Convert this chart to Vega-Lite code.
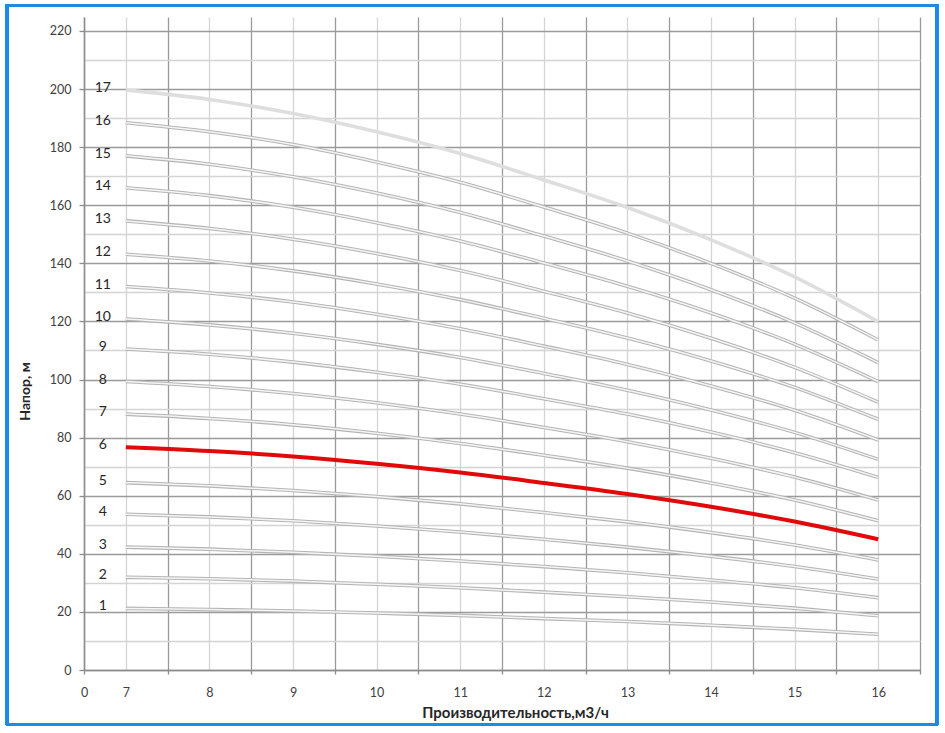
{
  "$schema": "https://vega.github.io/schema/vega-lite/v6.json",
  "autosize": "none",
  "width": 836,
  "height": 653,
  "padding": {"left": 84, "top": 17, "right": 25, "bottom": 63},
  "background": "white",
  "config": {
    "view": {"stroke": null},
    "font": "Lato",
    "axis": {"labelFont": "Lato", "titleFont": "Lato"}
  },
  "datasets": {
    "curves": [
      {"n":1,"q":7,"h":21.2},{"n":1,"q":8,"h":20.8},{"n":1,"q":9,"h":20.3},{"n":1,"q":10,"h":19.6},{"n":1,"q":11,"h":18.8},{"n":1,"q":12,"h":17.7},{"n":1,"q":13,"h":16.7},{"n":1,"q":14,"h":15.4},{"n":1,"q":15,"h":14.0},{"n":1,"q":16,"h":12.3},
      {"n":2,"q":7,"h":31.9},{"n":2,"q":8,"h":31.4},{"n":2,"q":9,"h":30.6},{"n":2,"q":10,"h":29.5},{"n":2,"q":11,"h":28.3},{"n":2,"q":12,"h":26.8},{"n":2,"q":13,"h":25.2},{"n":2,"q":14,"h":23.4},{"n":2,"q":15,"h":21.3},{"n":2,"q":16,"h":18.7},
      {"n":3,"q":7,"h":42.3},{"n":3,"q":8,"h":41.6},{"n":3,"q":9,"h":40.5},{"n":3,"q":10,"h":39.2},{"n":3,"q":11,"h":37.5},{"n":3,"q":12,"h":35.6},{"n":3,"q":13,"h":33.5},{"n":3,"q":14,"h":31.0},{"n":3,"q":15,"h":28.3},{"n":3,"q":16,"h":24.9},
      {"n":4,"q":7,"h":53.6},{"n":4,"q":8,"h":52.7},{"n":4,"q":9,"h":51.4},{"n":4,"q":10,"h":49.6},{"n":4,"q":11,"h":47.5},{"n":4,"q":12,"h":45.0},{"n":4,"q":13,"h":42.3},{"n":4,"q":14,"h":39.2},{"n":4,"q":15,"h":35.6},{"n":4,"q":16,"h":31.3},
      {"n":5,"q":7,"h":64.5},{"n":5,"q":8,"h":63.4},{"n":5,"q":9,"h":61.8},{"n":5,"q":10,"h":59.7},{"n":5,"q":11,"h":57.2},{"n":5,"q":12,"h":54.2},{"n":5,"q":13,"h":51.0},{"n":5,"q":14,"h":47.3},{"n":5,"q":15,"h":43.0},{"n":5,"q":16,"h":37.9},
      {"n":6,"q":7,"h":76.7},{"n":6,"q":8,"h":75.4},{"n":6,"q":9,"h":73.5},{"n":6,"q":10,"h":71.0},{"n":6,"q":11,"h":68.0},{"n":6,"q":12,"h":64.4},{"n":6,"q":13,"h":60.6},{"n":6,"q":14,"h":56.2},{"n":6,"q":15,"h":51.1},{"n":6,"q":16,"h":45.0},
      {"n":7,"q":7,"h":88.1},{"n":7,"q":8,"h":86.6},{"n":7,"q":9,"h":84.4},{"n":7,"q":10,"h":81.5},{"n":7,"q":11,"h":78.0},{"n":7,"q":12,"h":73.9},{"n":7,"q":13,"h":69.5},{"n":7,"q":14,"h":64.4},{"n":7,"q":15,"h":58.5},{"n":7,"q":16,"h":51.4},
      {"n":8,"q":7,"h":99.3},{"n":8,"q":8,"h":97.6},{"n":8,"q":9,"h":95.2},{"n":8,"q":10,"h":92.0},{"n":8,"q":11,"h":88.1},{"n":8,"q":12,"h":83.5},{"n":8,"q":13,"h":78.6},{"n":8,"q":14,"h":72.9},{"n":8,"q":15,"h":66.4},{"n":8,"q":16,"h":58.5},
      {"n":9,"q":7,"h":110.5},{"n":9,"q":8,"h":108.7},{"n":9,"q":9,"h":106.0},{"n":9,"q":10,"h":102.5},{"n":9,"q":11,"h":98.4},{"n":9,"q":12,"h":93.4},{"n":9,"q":13,"h":88.1},{"n":9,"q":14,"h":81.9},{"n":9,"q":15,"h":74.8},{"n":9,"q":16,"h":66.3},
      {"n":10,"q":7,"h":120.8},{"n":10,"q":8,"h":118.8},{"n":10,"q":9,"h":115.9},{"n":10,"q":10,"h":112.1},{"n":10,"q":11,"h":107.6},{"n":10,"q":12,"h":102.1},{"n":10,"q":13,"h":96.3},{"n":10,"q":14,"h":89.5},{"n":10,"q":15,"h":81.8},{"n":10,"q":16,"h":72.5},
      {"n":11,"q":7,"h":132.0},{"n":11,"q":8,"h":129.8},{"n":11,"q":9,"h":126.7},{"n":11,"q":10,"h":122.5},{"n":11,"q":11,"h":117.5},{"n":11,"q":12,"h":111.5},{"n":11,"q":13,"h":105.2},{"n":11,"q":14,"h":97.8},{"n":11,"q":15,"h":89.4},{"n":11,"q":16,"h":79.2},
      {"n":12,"q":7,"h":143.1},{"n":12,"q":8,"h":140.8},{"n":12,"q":9,"h":137.4},{"n":12,"q":10,"h":132.9},{"n":12,"q":11,"h":127.5},{"n":12,"q":12,"h":121.1},{"n":12,"q":13,"h":114.3},{"n":12,"q":14,"h":106.4},{"n":12,"q":15,"h":97.3},{"n":12,"q":16,"h":86.3},
      {"n":13,"q":7,"h":154.6},{"n":13,"q":8,"h":152.0},{"n":13,"q":9,"h":148.3},{"n":13,"q":10,"h":143.4},{"n":13,"q":11,"h":137.5},{"n":13,"q":12,"h":130.4},{"n":13,"q":13,"h":122.9},{"n":13,"q":14,"h":114.2},{"n":13,"q":15,"h":104.2},{"n":13,"q":16,"h":92.2},
      {"n":14,"q":7,"h":166.0},{"n":14,"q":8,"h":163.3},{"n":14,"q":9,"h":159.3},{"n":14,"q":10,"h":154.0},{"n":14,"q":11,"h":147.7},{"n":14,"q":12,"h":140.1},{"n":14,"q":13,"h":132.1},{"n":14,"q":14,"h":122.9},{"n":14,"q":15,"h":112.2},{"n":14,"q":16,"h":99.3},
      {"n":15,"q":7,"h":177.0},{"n":15,"q":8,"h":174.1},{"n":15,"q":9,"h":169.8},{"n":15,"q":10,"h":164.2},{"n":15,"q":11,"h":157.5},{"n":15,"q":12,"h":149.4},{"n":15,"q":13,"h":140.8},{"n":15,"q":14,"h":130.9},{"n":15,"q":15,"h":119.5},{"n":15,"q":16,"h":105.8},
      {"n":16,"q":7,"h":188.4},{"n":16,"q":8,"h":185.3},{"n":16,"q":9,"h":180.9},{"n":16,"q":10,"h":174.9},{"n":16,"q":11,"h":167.9},{"n":16,"q":12,"h":159.4},{"n":16,"q":13,"h":150.4},{"n":16,"q":14,"h":140.0},{"n":16,"q":15,"h":128.0},{"n":16,"q":16,"h":113.6},
      {"n":17,"q":7,"h":199.7},{"n":17,"q":8,"h":196.4},{"n":17,"q":9,"h":191.6},{"n":17,"q":10,"h":185.3},{"n":17,"q":11,"h":177.8},{"n":17,"q":12,"h":168.7},{"n":17,"q":13,"h":159.2},{"n":17,"q":14,"h":148.1},{"n":17,"q":15,"h":135.3},{"n":17,"q":16,"h":119.9}
    ]
  },
  "data": {"name": "curves"},
  "encoding": {
    "x": {
      "field": "q", "type": "quantitative",
      "scale": {"domain": [6.5, 16.5], "nice": false, "zero": false},
      "axis": {
        "title": "Производительность,м3/ч",
        "titleFontSize": 15, "titleFontWeight": "bold", "titleColor": "#262626",
        "titleX": 431, "titleY": 42, "titleBaseline": "middle", "titleAlign": "center",
        "values": [6.5,7,7.5,8,8.5,9,9.5,10,10.5,11,11.5,12,12.5,13,13.5,14,14.5,15,15.5,16,16.5],
        "labelExpr": "datum.value == 6.5 ? '0' : (datum.value % 1 == 0 ? format(datum.value, 'd') : '')",
        "labelFontSize": 12.5, "labelColor": "#404040", "labelPadding": 12,
        "labelOverlap": false, "labelBound": false, "labelFlush": false,
        "tickSize": 4,
        "tickColor": {"condition": {"test": "datum.value % 1 != 0", "value": "#8c8c8c"}, "value": "transparent"},
        "tickWidth": 1.3,
        "domainColor": "#8c8c8c", "domainWidth": 1.5,
        "grid": true,
        "gridColor": {"condition": {"test": "datum.value % 1 != 0", "value": "#9a9a9a"}, "value": "#d4d4d4"},
        "gridWidth": 1.3
      }
    },
    "y": {
      "field": "h", "type": "quantitative",
      "scale": {"domain": [0, 224.8], "nice": false, "zero": true},
      "axis": {
        "title": "Напор, м",
        "titleFontSize": 14, "titleFontWeight": "bold", "titleColor": "#262626",
        "titleAngle": -90, "titleX": -59, "titleY": 374, "titleAlign": "center", "titleBaseline": "middle",
        "values": [0,10,20,30,40,50,60,70,80,90,100,110,120,130,140,150,160,170,180,190,200,210,220],
        "labelExpr": "datum.value % 20 == 0 ? format(datum.value, 'd') : ''",
        "labelFontSize": 12.5, "labelColor": "#404040", "labelPadding": 8,
        "labelOverlap": false, "labelBound": false, "labelFlush": false,
        "tickSize": 5,
        "tickColor": {"condition": {"test": "datum.value % 20 == 0", "value": "#8c8c8c"}, "value": "transparent"},
        "tickWidth": 1.3,
        "domainColor": "#8c8c8c", "domainWidth": 1.5,
        "grid": true,
        "gridColor": {"condition": {"test": "datum.value % 20 == 0", "value": "#9a9a9a"}, "value": "#d4d4d4"},
        "gridWidth": 1.3
      }
    }
  },
  "layer": [
    {
      "transform": [{"filter": "datum.n != 6"}],
      "mark": {"type": "line", "strokeWidth": 3.6, "interpolate": "monotone"},
      "encoding": {
        "detail": {"field": "n", "type": "nominal"},
        "color": {"condition": {"test": "datum.n == 17", "value": "#dedede"}, "value": "#b4b4b4"}
      }
    },
    {
      "transform": [{"filter": "datum.n != 6 && datum.n != 17"}],
      "mark": {"type": "line", "strokeWidth": 1.5, "color": "#f5f5f5", "interpolate": "monotone"},
      "encoding": {"detail": {"field": "n", "type": "nominal"}}
    },
    {
      "transform": [{"filter": "datum.n == 6"}],
      "mark": {"type": "line", "strokeWidth": 4, "color": "#e00a0a", "interpolate": "monotone"},
      "encoding": {}
    },
    {
      "transform": [{"filter": "datum.q == 7"}],
      "mark": {"type": "text", "dx": -23, "dy": -2, "fontSize": 14, "color": "#262626", "align": "center", "baseline": "middle"},
      "encoding": {"text": {"field": "n", "type": "quantitative"}}
    },
    {
      "mark": {"type": "rect", "fill": null, "stroke": "#1c8ae6", "strokeWidth": 2.2, "clip": false},
      "encoding": {
        "x": {"datum": 5.579, "type": "quantitative"},
        "x2": {"datum": 16.703},
        "y": {"datum": 228.9, "type": "quantitative"},
        "y2": {"datum": -18.6}
      }
    }
  ]
}
